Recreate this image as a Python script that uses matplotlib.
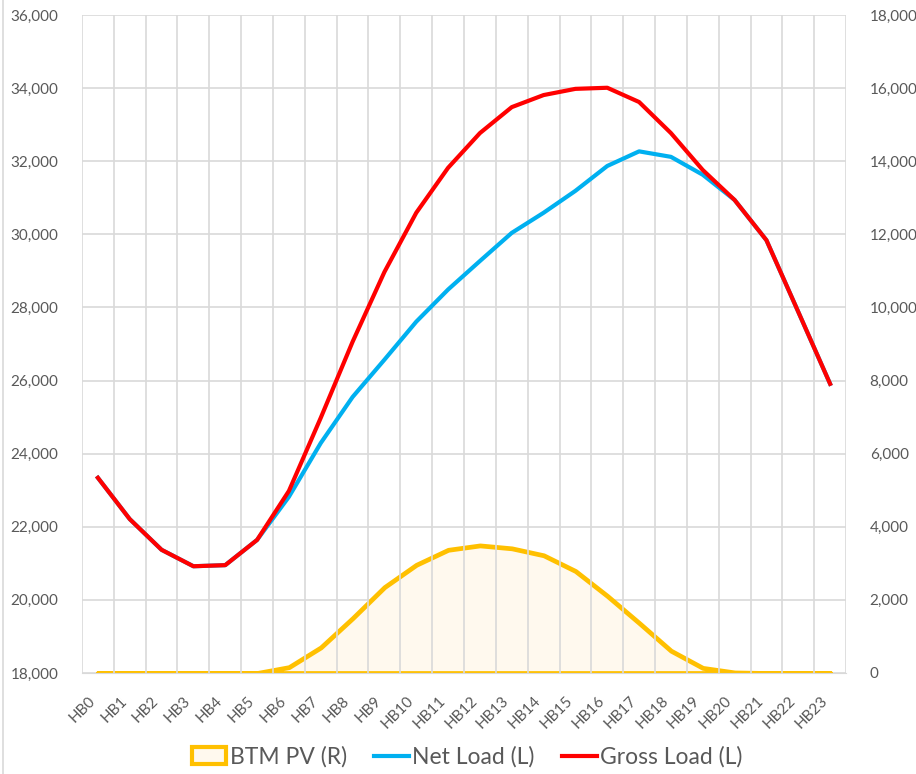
import numpy as np
import matplotlib.pyplot as plt
from matplotlib.patches import Patch
from matplotlib.lines import Line2D

plt.rcParams['font.family'] = ['Lato', 'DejaVu Sans']

# Hourly data
hours = ['HB%d' % i for i in range(24)]
gross_load = [23340, 22210, 21370, 20920, 20950, 21640, 22980, 24980, 27060, 28970,
              30590, 31820, 32770, 33480, 33810, 33980, 34010, 33620, 32770, 31760,
              30940, 29840, 27880, 25910]
net_load = [23340, 22210, 21370, 20920, 20950, 21640, 22820, 24290, 25550, 26570,
            27610, 28490, 29270, 30040, 30590, 31190, 31870, 32270, 32120, 31630,
            30940, 29840, 27880, 25910]
btm_pv = [0, 0, 0, 0, 0, 0, 160, 700, 1500, 2350,
          2960, 3370, 3490, 3410, 3220, 2790, 2110, 1370, 610, 140,
          15, 0, 0, 0]

left_ticks = np.arange(18000, 36001, 2000)
right_ticks = np.arange(0, 18001, 2000)

grey = '#595959'
grid_c = '#D9D9D9'

fig = plt.figure(figsize=(9.16, 7.74), dpi=100)
ax = fig.add_axes([0.0895, 0.1305, 0.8341, 0.8501])
ax2 = ax.twinx()

x = np.arange(len(hours))

# area on the right axis, kept beneath the load lines
ax2.fill_between(x, 0, btm_pv, facecolor='#FFF9EE', edgecolor='#FFC000', linewidth=3.4, zorder=2)
ax.set_zorder(ax2.get_zorder() + 1)
ax.patch.set_visible(False)

ax.plot(x, net_load, color='#00B0F0', linewidth=3, zorder=3)
ax.plot(x, gross_load, color='#FF0000', linewidth=3, zorder=4)

ax.set_xlim(-0.5, 23.5)
ax.set_ylim(18000, 36000)
ax2.set_ylim(0, 18000)

ax.set_yticks(left_ticks)
ax.set_yticklabels(['{:,}'.format(v) for v in left_ticks])
ax2.set_yticks(right_ticks)
ax2.set_yticklabels(['{:,}'.format(v) for v in right_ticks])

ax.set_xticks(x)
ax.set_xticklabels(hours, rotation=45, ha='right')
ax.set_xticks(np.arange(-0.5, 24, 1), minor=True)

# horizontal grid on the back axis, vertical grid between categories
ax2.set_axisbelow(True)
ax2.yaxis.grid(True, color=grid_c, linewidth=1.2)
ax.set_axisbelow(True)
ax.xaxis.grid(True, which='minor', color=grid_c, linewidth=1.2)
ax.xaxis.grid(False, which='major')

for a in (ax, ax2):
    for s in a.spines.values():
        s.set_visible(False)
ax2.spines['bottom'].set_visible(True)
ax2.spines['bottom'].set_color(grid_c)

ax.tick_params(axis='y', length=0, pad=17, labelsize=11, labelcolor=grey)
ax2.tick_params(axis='y', length=0, pad=17, labelsize=11, labelcolor=grey)
ax.tick_params(axis='x', which='both', length=0, pad=15, labelsize=11, labelcolor=grey)

# chart border on the left
fig.add_artist(Line2D([0.0035, 0.0035], [0, 1], transform=fig.transFigure, color=grid_c, linewidth=1.2))

handles = [Patch(facecolor='#FFF9EE', edgecolor='#FFC000', linewidth=3),
           Line2D([0], [0], color='#00B0F0', linewidth=3),
           Line2D([0], [0], color='#FF0000', linewidth=3)]
fig.legend(handles, ['BTM PV (R)', 'Net Load (L)', 'Gross Load (L)'],
           loc='center', bbox_to_anchor=(0.51, 0.022), ncol=3, frameon=False,
           fontsize=16.5, labelcolor=grey, handlelength=1.5, handleheight=0.75,
           handletextpad=0.15, columnspacing=1.2)

plt.savefig('out.png', dpi=100)
plt.close()
